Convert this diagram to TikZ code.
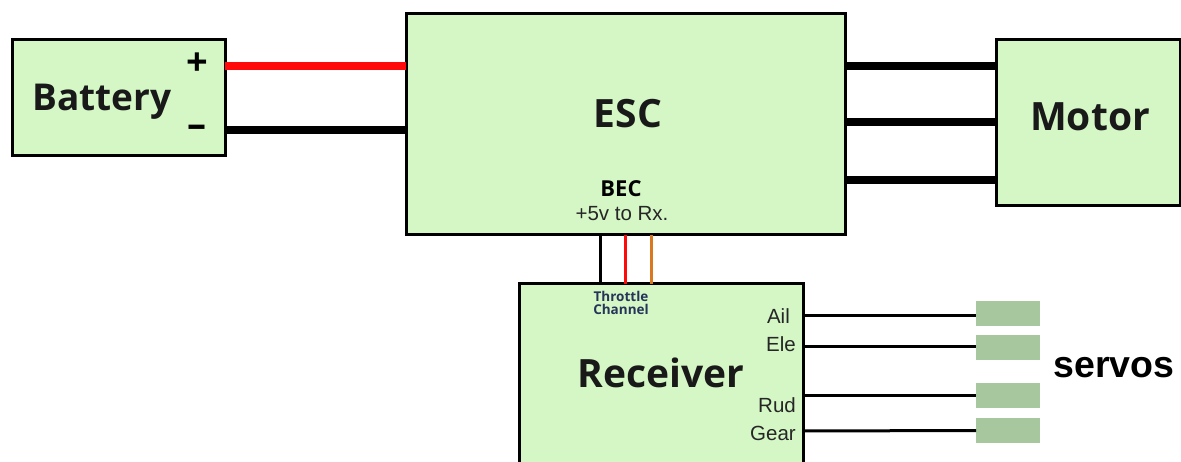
\documentclass[tikz,border=0pt]{standalone}
\usepackage{fontspec}
\setmainfont{Liberation Sans}
\newfontfamily\lucida{Open Sans}
\definecolor{boxgreen}{HTML}{D4F7C5}
\definecolor{servogreen}{HTML}{A7C79E}
\definecolor{wirered}{HTML}{FF0A0A}
\definecolor{wireorange}{HTML}{D9781E}
\definecolor{navytext}{HTML}{26345A}
\tikzset{
  block/.style={draw=black,line width=3pt,fill=boxgreen,inner sep=0pt,outer sep=0pt,anchor=north west},
  servo/.style={draw=none,fill=servogreen,minimum width=64pt,minimum height=25pt,inner sep=0pt,outer sep=0pt,anchor=north west},
  title/.style={font=\lucida\fontsize{39}{41}\selectfont\bfseries,text=black!90,inner sep=0pt},
  port/.style={font=\fontsize{20.5}{22}\selectfont,text=black!85,inner sep=0pt,anchor=east},
  power/.style={line width=8pt},
  motorwire/.style={line width=8pt,draw=black},
  bec/.style={line width=3pt},
  signal/.style={line width=3pt,draw=black}
}
\begin{document}
\begin{tikzpicture}[x=1pt,y=-1pt]
\clip (0,0) rectangle (1181,462);
\fill[white] (0,0) rectangle (1181,462);
\node[block,minimum width=213pt,minimum height=116pt] (battery) at (12,40) {};
\node[block,minimum width=439pt,minimum height=221pt] (esc) at (406,14) {};
\node[block,minimum width=184pt,minimum height=166pt] (motor) at (996,40) {};
\node[block,minimum width=284pt,minimum height=200pt] (receiver) at (519,284) {};
\node[servo] (s1) at (976,301) {};
\node[servo] (s2) at (976,335) {};
\node[servo] (s3) at (976,383) {};
\node[servo] (s4) at (976,418) {};
% power
\draw[power,draw=wirered] ([yshift=32pt]battery.east) -- ([yshift=58.5pt]esc.west);
\draw[power,draw=black] ([yshift=-32pt]battery.east) -- ([yshift=-5.5pt]esc.west);
\draw[motorwire] ([yshift=58.5pt]esc.east) -- ([yshift=57pt]motor.west);
\draw[motorwire] ([yshift=2.5pt]esc.east) -- ([yshift=1pt]motor.west);
\draw[motorwire] ([yshift=-55.5pt]esc.east) -- ([yshift=-57pt]motor.west);
% BEC
\draw[bec,draw=black] ([xshift=-25.5pt]esc.south) -- ([xshift=-61pt]receiver.north);
\draw[bec,draw=wirered] ([xshift=-0.5pt]esc.south) -- ([xshift=-36pt]receiver.north);
\draw[bec,draw=wireorange] ([xshift=25.5pt]esc.south) -- ([xshift=-10pt]receiver.north);
% signals
\draw[signal] ([yshift=68pt]receiver.east) -- ([yshift=-2.5pt]s1.west);
\draw[signal] ([yshift=37pt]receiver.east) -- ([yshift=0.5pt]s2.west);
\draw[signal] ([yshift=-11pt]receiver.east) -- ([yshift=0.5pt]s3.west);
\draw[signal] ([yshift=-47pt]receiver.east) -- (s4.west);
% labels
\node[title,font=\lucida\fontsize{37}{40}\selectfont\bfseries] (tbat) at (102,102) {Battery};
\node[title] (tesc) at (628,114) {ESC};
\node[title] (tmot) at (1090,117) {Motor};
\node[title] (trec) at (661,373) {Receiver};
\node[font=\lucida\bfseries\fontsize{38}{40}\selectfont,inner sep=0pt] (plus) at (197,64) {+};
\node[font=\lucida\bfseries\fontsize{38}{40}\selectfont,inner sep=0pt] (minus) at (197,131) {–};
\node[font=\lucida\bfseries\fontsize{22}{24}\selectfont,inner sep=0pt] (becl) at (621,189) {BEC};
\node[font=\fontsize{20.5}{22}\selectfont,inner sep=0pt,text=black!85] (rx) at (622,214) {+5v to Rx.};
\node[font=\lucida\bfseries\fontsize{13.5}{14}\selectfont,text=navytext,align=center,inner sep=0pt] (thr) at (621,303) {Throttle\\[-1.5pt]Channel};
\node[port] (ail) at (790,316) {Ail};
\node[port] (ele) at (796,344) {Ele};
\node[port] (rud) at (796,405) {Rud};
\node[port] (gear) at (796,433) {Gear};
\node[font=\bfseries\fontsize{37.5}{40}\selectfont,inner sep=0pt] (servos) at (1114,368) {servos};
\end{tikzpicture}
\end{document}
